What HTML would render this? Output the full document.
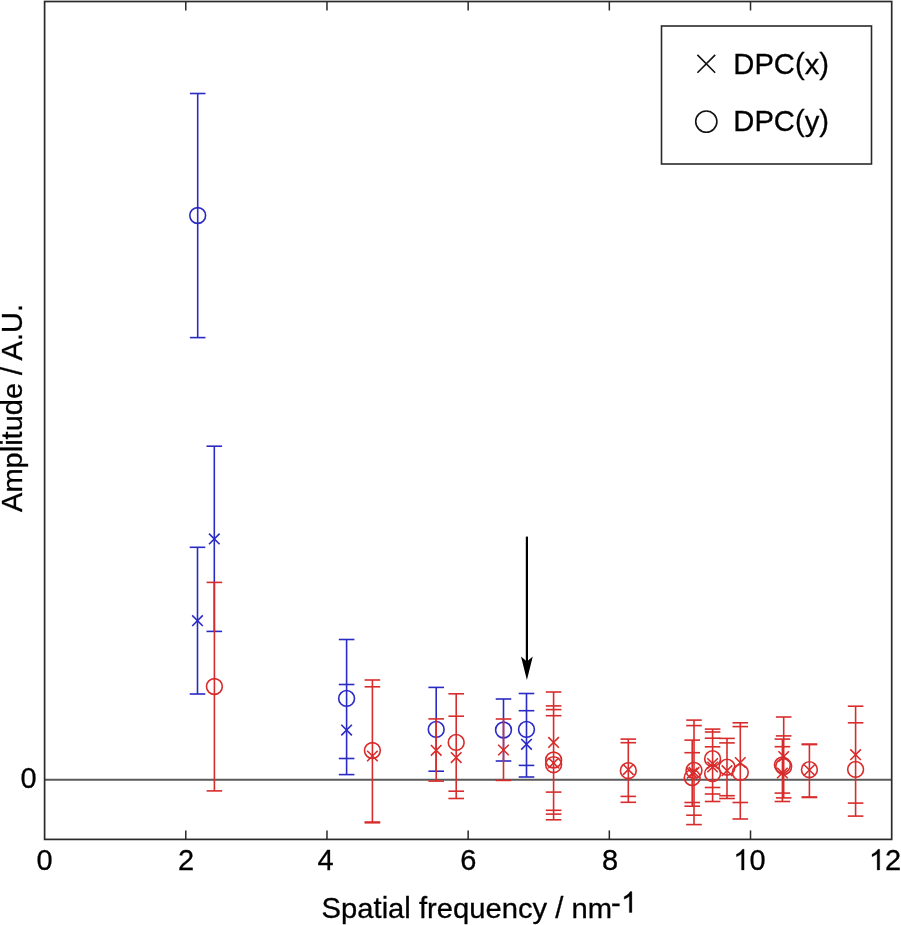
<!DOCTYPE html>
<html><head><meta charset="utf-8"><style>
html,body{margin:0;padding:0;background:#fff;width:901px;height:925px;overflow:hidden}
svg{display:block}
text{font-family:"Liberation Sans",sans-serif;font-size:29px;fill:#000;stroke:#000;stroke-width:0.3px}
svg{will-change:transform}
</style></head><body>
<svg width="901" height="925" viewBox="0 0 901 925">
<rect width="901" height="925" fill="#fff"/>
<g stroke="#2a2a2a" stroke-width="1.5" fill="none">
<line x1="44.6" y1="779.7" x2="891.7" y2="779.7" stroke="#5a5a5a" stroke-width="2"/>
<line x1="185.78" y1="839.4" x2="185.78" y2="830.40"/>
<line x1="185.78" y1="1.5" x2="185.78" y2="10.50"/>
<line x1="326.97" y1="839.4" x2="326.97" y2="830.40"/>
<line x1="326.97" y1="1.5" x2="326.97" y2="10.50"/>
<line x1="468.15" y1="839.4" x2="468.15" y2="830.40"/>
<line x1="468.15" y1="1.5" x2="468.15" y2="10.50"/>
<line x1="609.33" y1="839.4" x2="609.33" y2="830.40"/>
<line x1="609.33" y1="1.5" x2="609.33" y2="10.50"/>
<line x1="750.52" y1="839.4" x2="750.52" y2="830.40"/>
<line x1="750.52" y1="1.5" x2="750.52" y2="10.50"/>
</g>
<g stroke="#2a2ac4" stroke-width="1.6" fill="none">
<line x1="197.7" y1="93.5" x2="197.7" y2="337.6"/>
<line x1="189.90" y1="93.5" x2="205.50" y2="93.5"/>
<line x1="189.90" y1="337.6" x2="205.50" y2="337.6"/>
<circle cx="197.7" cy="215.5" r="7.9"/>
<line x1="197.5" y1="547.3" x2="197.5" y2="694.0"/>
<line x1="189.70" y1="547.3" x2="205.30" y2="547.3"/>
<line x1="189.70" y1="694.0" x2="205.30" y2="694.0"/>
<path d="M192.20 615.40L202.80 626.00M192.20 626.00L202.80 615.40"/>
<line x1="214.3" y1="446.2" x2="214.3" y2="631.4"/>
<line x1="206.50" y1="446.2" x2="222.10" y2="446.2"/>
<line x1="206.50" y1="631.4" x2="222.10" y2="631.4"/>
<path d="M209.00 533.60L219.60 544.20M209.00 544.20L219.60 533.60"/>
<line x1="346.6" y1="639.5" x2="346.6" y2="774.6"/>
<line x1="338.80" y1="639.5" x2="354.40" y2="639.5"/>
<line x1="338.80" y1="684.5" x2="354.40" y2="684.5"/>
<line x1="338.80" y1="758.5" x2="354.40" y2="758.5"/>
<line x1="338.80" y1="774.6" x2="354.40" y2="774.6"/>
<circle cx="346.6" cy="698.4" r="7.9"/>
<path d="M341.30 724.80L351.90 735.40M341.30 735.40L351.90 724.80"/>
<line x1="436.2" y1="687.4" x2="436.2" y2="771.2"/>
<line x1="428.40" y1="687.4" x2="444.00" y2="687.4"/>
<line x1="428.40" y1="771.2" x2="444.00" y2="771.2"/>
<circle cx="436.2" cy="729.4" r="7.9"/>
<line x1="503.5" y1="699.0" x2="503.5" y2="761.0"/>
<line x1="495.70" y1="699.0" x2="511.30" y2="699.0"/>
<line x1="495.70" y1="761.0" x2="511.30" y2="761.0"/>
<circle cx="503.5" cy="730.0" r="7.9"/>
<line x1="526.5" y1="693.5" x2="526.5" y2="777.0"/>
<line x1="518.70" y1="693.5" x2="534.30" y2="693.5"/>
<line x1="518.70" y1="710.7" x2="534.30" y2="710.7"/>
<line x1="518.70" y1="765.4" x2="534.30" y2="765.4"/>
<line x1="518.70" y1="777.0" x2="534.30" y2="777.0"/>
<circle cx="526.5" cy="729.4" r="7.9"/>
<path d="M521.20 739.00L531.80 749.60M521.20 749.60L531.80 739.00"/>
</g>
<g stroke="#d82c2c" stroke-width="1.6" fill="none">
<line x1="214.4" y1="582.4" x2="214.4" y2="790.9"/>
<line x1="206.60" y1="582.4" x2="222.20" y2="582.4"/>
<line x1="206.60" y1="790.9" x2="222.20" y2="790.9"/>
<circle cx="214.4" cy="686.5" r="7.9"/>
<line x1="372.4" y1="680.0" x2="372.4" y2="822.8"/>
<line x1="364.60" y1="680.0" x2="380.20" y2="680.0"/>
<line x1="364.60" y1="686.8" x2="380.20" y2="686.8"/>
<line x1="364.60" y1="822.0" x2="380.20" y2="822.0"/>
<line x1="364.60" y1="822.8" x2="380.20" y2="822.8"/>
<circle cx="372.4" cy="750.5" r="7.9"/>
<path d="M367.10 750.70L377.70 761.30M367.10 761.30L377.70 750.70"/>
<line x1="436.2" y1="718.9" x2="436.2" y2="781.1"/>
<line x1="428.40" y1="718.9" x2="444.00" y2="718.9"/>
<line x1="428.40" y1="781.1" x2="444.00" y2="781.1"/>
<path d="M430.90 745.00L441.50 755.60M430.90 755.60L441.50 745.00"/>
<line x1="456.2" y1="693.8" x2="456.2" y2="798.5"/>
<line x1="448.40" y1="693.8" x2="464.00" y2="693.8"/>
<line x1="448.40" y1="716.2" x2="464.00" y2="716.2"/>
<line x1="448.40" y1="791.2" x2="464.00" y2="791.2"/>
<line x1="448.40" y1="798.5" x2="464.00" y2="798.5"/>
<circle cx="456.2" cy="742.4" r="7.9"/>
<path d="M450.90 752.30L461.50 762.90M450.90 762.90L461.50 752.30"/>
<line x1="503.5" y1="719.0" x2="503.5" y2="780.4"/>
<line x1="495.70" y1="719.0" x2="511.30" y2="719.0"/>
<line x1="495.70" y1="780.4" x2="511.30" y2="780.4"/>
<path d="M498.20 744.70L508.80 755.30M498.20 755.30L508.80 744.70"/>
<line x1="553.6" y1="692.0" x2="553.6" y2="819.8"/>
<line x1="545.80" y1="692.0" x2="561.40" y2="692.0"/>
<line x1="545.80" y1="705.9" x2="561.40" y2="705.9"/>
<line x1="545.80" y1="709.6" x2="561.40" y2="709.6"/>
<line x1="545.80" y1="715.7" x2="561.40" y2="715.7"/>
<line x1="545.80" y1="792.1" x2="561.40" y2="792.1"/>
<line x1="545.80" y1="810.3" x2="561.40" y2="810.3"/>
<line x1="545.80" y1="814.1" x2="561.40" y2="814.1"/>
<line x1="545.80" y1="819.8" x2="561.40" y2="819.8"/>
<path d="M548.30 737.10L558.90 747.70M548.30 747.70L558.90 737.10"/>
<circle cx="553.6" cy="760.0" r="7.9"/>
<circle cx="553.6" cy="764.7" r="7.9"/>
<path d="M548.30 757.70L558.90 768.30M548.30 768.30L558.90 757.70"/>
<line x1="628.3" y1="739.1" x2="628.3" y2="802.3"/>
<line x1="620.50" y1="739.1" x2="636.10" y2="739.1"/>
<line x1="620.50" y1="742.7" x2="636.10" y2="742.7"/>
<line x1="620.50" y1="796.4" x2="636.10" y2="796.4"/>
<line x1="620.50" y1="802.3" x2="636.10" y2="802.3"/>
<circle cx="628.3" cy="770.7" r="7.9"/>
<path d="M623.00 764.30L633.60 774.90M623.00 774.90L633.60 764.30"/>
<line x1="694.0" y1="720.1" x2="694.0" y2="824.6"/>
<line x1="686.20" y1="720.1" x2="701.80" y2="720.1"/>
<line x1="686.20" y1="725.6" x2="701.80" y2="725.6"/>
<line x1="686.20" y1="815.2" x2="701.80" y2="815.2"/>
<line x1="686.20" y1="824.6" x2="701.80" y2="824.6"/>
<circle cx="694.0" cy="770.4" r="7.9"/>
<path d="M688.70 767.10L699.30 777.70M688.70 777.70L699.30 767.10"/>
<line x1="692.2" y1="740.1" x2="692.2" y2="806.2"/>
<line x1="684.40" y1="740.1" x2="700.00" y2="740.1"/>
<line x1="684.40" y1="752.7" x2="700.00" y2="752.7"/>
<line x1="684.40" y1="802.5" x2="700.00" y2="802.5"/>
<line x1="684.40" y1="806.2" x2="700.00" y2="806.2"/>
<circle cx="692.2" cy="777.6" r="7.9"/>
<path d="M686.90 767.90L697.50 778.50M686.90 778.50L697.50 767.90"/>
<line x1="712.6" y1="729.1" x2="712.6" y2="801.5"/>
<line x1="704.80" y1="729.1" x2="720.40" y2="729.1"/>
<line x1="704.80" y1="732.0" x2="720.40" y2="732.0"/>
<line x1="704.80" y1="738.2" x2="720.40" y2="738.2"/>
<line x1="704.80" y1="746.8" x2="720.40" y2="746.8"/>
<line x1="704.80" y1="787.5" x2="720.40" y2="787.5"/>
<line x1="704.80" y1="794.0" x2="720.40" y2="794.0"/>
<line x1="704.80" y1="801.5" x2="720.40" y2="801.5"/>
<circle cx="712.6" cy="758.7" r="7.9"/>
<circle cx="712.6" cy="773.6" r="7.9"/>
<path d="M707.30 758.20L717.90 768.80M707.30 768.80L717.90 758.20"/>
<path d="M707.30 761.70L717.90 772.30M707.30 772.30L717.90 761.70"/>
<line x1="727.0" y1="738.4" x2="727.0" y2="798.5"/>
<line x1="719.20" y1="738.4" x2="734.80" y2="738.4"/>
<line x1="719.20" y1="742.9" x2="734.80" y2="742.9"/>
<line x1="719.20" y1="795.7" x2="734.80" y2="795.7"/>
<line x1="719.20" y1="798.5" x2="734.80" y2="798.5"/>
<circle cx="727.0" cy="767.2" r="7.9"/>
<path d="M721.70 765.40L732.30 776.00M721.70 776.00L732.30 765.40"/>
<line x1="740.3" y1="722.8" x2="740.3" y2="819.0"/>
<line x1="732.50" y1="722.8" x2="748.10" y2="722.8"/>
<line x1="732.50" y1="726.6" x2="748.10" y2="726.6"/>
<line x1="732.50" y1="802.5" x2="748.10" y2="802.5"/>
<line x1="732.50" y1="819.0" x2="748.10" y2="819.0"/>
<circle cx="740.3" cy="772.4" r="7.9"/>
<path d="M735.00 757.20L745.60 767.80M735.00 767.80L745.60 757.20"/>
<line x1="783.7" y1="717.0" x2="783.7" y2="797.9"/>
<line x1="775.90" y1="717.0" x2="791.50" y2="717.0"/>
<line x1="775.90" y1="735.9" x2="791.50" y2="735.9"/>
<line x1="775.90" y1="797.9" x2="791.50" y2="797.9"/>
<circle cx="783.7" cy="766.5" r="7.9"/>
<path d="M778.40 751.20L789.00 761.80M778.40 761.80L789.00 751.20"/>
<line x1="782.4" y1="739.1" x2="782.4" y2="801.5"/>
<line x1="774.60" y1="739.1" x2="790.20" y2="739.1"/>
<line x1="774.60" y1="746.7" x2="790.20" y2="746.7"/>
<line x1="774.60" y1="793.1" x2="790.20" y2="793.1"/>
<line x1="774.60" y1="801.5" x2="790.20" y2="801.5"/>
<circle cx="782.4" cy="765.0" r="7.9"/>
<path d="M777.10 767.70L787.70 778.30M777.10 778.30L787.70 767.70"/>
<line x1="809.4" y1="744.1" x2="809.4" y2="797.5"/>
<line x1="801.60" y1="744.1" x2="817.20" y2="744.1"/>
<line x1="801.60" y1="744.6" x2="817.20" y2="744.6"/>
<line x1="801.60" y1="797.0" x2="817.20" y2="797.0"/>
<line x1="801.60" y1="797.5" x2="817.20" y2="797.5"/>
<circle cx="809.4" cy="769.7" r="7.9"/>
<path d="M804.10 764.70L814.70 775.30M804.10 775.30L814.70 764.70"/>
<line x1="855.6" y1="706.2" x2="855.6" y2="816.1"/>
<line x1="847.80" y1="706.2" x2="863.40" y2="706.2"/>
<line x1="847.80" y1="722.8" x2="863.40" y2="722.8"/>
<line x1="847.80" y1="803.1" x2="863.40" y2="803.1"/>
<line x1="847.80" y1="816.1" x2="863.40" y2="816.1"/>
<path d="M850.30 749.40L860.90 760.00M850.30 760.00L860.90 749.40"/>
<circle cx="855.6" cy="769.4" r="7.9"/>
</g>
<g stroke="#000" stroke-width="2.2" fill="none">
<line x1="526.9" y1="536.6" x2="526.9" y2="664"/>
</g>
<path d="M521 656.5 L526.9 680 L532.8 656.5 L526.9 661.5 Z" fill="#000"/>
<rect x="44.6" y="1.5" width="847.10" height="837.90" fill="none" stroke="#2a2a2a" stroke-width="1.7"/>
<rect x="661.5" y="26" width="210" height="138" fill="#fff" stroke="#2a2a2a" stroke-width="1.6"/>
<g stroke="#111" stroke-width="1.6" fill="none">
<path d="M697.4 54.9L715.2 72.7M697.4 72.7L715.2 54.9"/>
<circle cx="706.3" cy="121.6" r="10.6"/>
</g>
<g transform="translate(44.55,870.00)"><text transform="translate(-8.07,0) scale(1,1.035)" style="font-size:29.0px">0</text></g>
<g transform="translate(186.00,870.00)"><text transform="translate(-8.07,0) scale(1,1.035)" style="font-size:29.0px">2</text></g>
<g transform="translate(325.50,870.00)"><text transform="translate(-8.07,0) scale(1,1.035)" style="font-size:29.0px">4</text></g>
<g transform="translate(468.30,870.00)"><text transform="translate(-8.07,0) scale(1,1.035)" style="font-size:29.0px">6</text></g>
<g transform="translate(610.10,870.00)"><text transform="translate(-8.07,0) scale(1,1.035)" style="font-size:29.0px">8</text></g>
<path d="M373 0L285 0L285 560Q255 530 210 505Q160 478 109 458L109 543Q180 575 240 625Q290 670 318 716L373 716Z" transform="translate(733.28,870.00) scale(0.0290,-0.0290)" fill="#000" stroke="#000" stroke-width="10"/>
<g transform="translate(749.40,870.00)"><text transform="translate(0.00,0) scale(1,1.035)" style="font-size:29.0px">0</text></g>
<path d="M373 0L285 0L285 560Q255 530 210 505Q160 478 109 458L109 543Q180 575 240 625Q290 670 318 716L373 716Z" transform="translate(868.88,870.00) scale(0.0290,-0.0290)" fill="#000" stroke="#000" stroke-width="10"/>
<g transform="translate(885.00,870.00)"><text transform="translate(0.00,0) scale(1,1.035)" style="font-size:29.0px">2</text></g>
<g transform="translate(36.60,788.30)"><text transform="translate(-16.14,0) scale(1,1.035)" style="font-size:29.0px">0</text></g>
<g transform="translate(21.70,511.90) rotate(-90)"><text transform="translate(0.00,0) scale(1,1.035)" style="font-size:29.0px">A</text><text transform="translate(19.33,0) scale(1,0.965)" style="font-size:29.0px">mp</text><text transform="translate(59.62,0) scale(1,0.99)" style="font-size:29.0px">lit</text><text transform="translate(80.56,0) scale(1,0.965)" style="font-size:29.0px">u</text><text transform="translate(96.69,0) scale(1,0.99)" style="font-size:29.0px">d</text><text transform="translate(112.83,0) scale(1,0.965)" style="font-size:29.0px">e</text><text transform="translate(137.00,0) scale(1,1.0)" style="font-size:29.0px">/</text><text transform="translate(151.52,0) scale(1,1.035)" style="font-size:29.0px">A</text><text transform="translate(170.86,0) scale(1,1.0)" style="font-size:29.0px">.</text><text transform="translate(178.92,0) scale(1,1.035)" style="font-size:29.0px">U</text><text transform="translate(199.86,0) scale(1,1.0)" style="font-size:29.0px">.</text></g>
<g transform="translate(733.30,74.00)"><text transform="translate(0.00,0) scale(1,1.035)" style="font-size:29.2px">DPC</text><text transform="translate(61.61,0) scale(1,1.0)" style="font-size:29.2px">(</text><text transform="translate(71.34,0) scale(1,0.965)" style="font-size:29.2px">x</text><text transform="translate(85.94,0) scale(1,1.0)" style="font-size:29.2px">)</text></g>
<g transform="translate(733.30,131.30)"><text transform="translate(0.00,0) scale(1,1.035)" style="font-size:29.2px">DPC</text><text transform="translate(61.61,0) scale(1,1.0)" style="font-size:29.2px">(</text><text transform="translate(71.34,0) scale(1,0.965)" style="font-size:29.2px">y</text><text transform="translate(85.94,0) scale(1,1.0)" style="font-size:29.2px">)</text></g>
<g transform="translate(321.60,918.00)"><text transform="translate(0.00,0) scale(1,1.035)" style="font-size:29.2px">S</text><text transform="translate(19.45,0) scale(1,0.965)" style="font-size:29.2px">pa</text><text transform="translate(51.92,0) scale(1,0.99)" style="font-size:29.2px">ti</text><text transform="translate(66.52,0) scale(1,0.965)" style="font-size:29.2px">a</text><text transform="translate(82.75,0) scale(1,0.99)" style="font-size:29.2px">l</text><text transform="translate(97.34,0) scale(1,0.99)" style="font-size:29.2px">f</text><text transform="translate(105.45,0) scale(1,0.965)" style="font-size:29.2px">requency</text><text transform="translate(233.64,0) scale(1,1.0)" style="font-size:29.2px">/</text><text transform="translate(249.86,0) scale(1,0.965)" style="font-size:29.2px">nm</text></g>
<g transform="translate(611.10,912.50)"><text transform="translate(0.00,0) scale(1,1.0)" style="font-size:29.2px">-</text></g>
<path d="M373 0L285 0L285 560Q255 530 210 505Q160 478 109 458L109 543Q180 575 240 625Q290 670 318 716L373 716Z" transform="translate(621.00,912.50) scale(0.0292,-0.0292)" fill="#000" stroke="#000" stroke-width="10"/>
</svg>
</body></html>
